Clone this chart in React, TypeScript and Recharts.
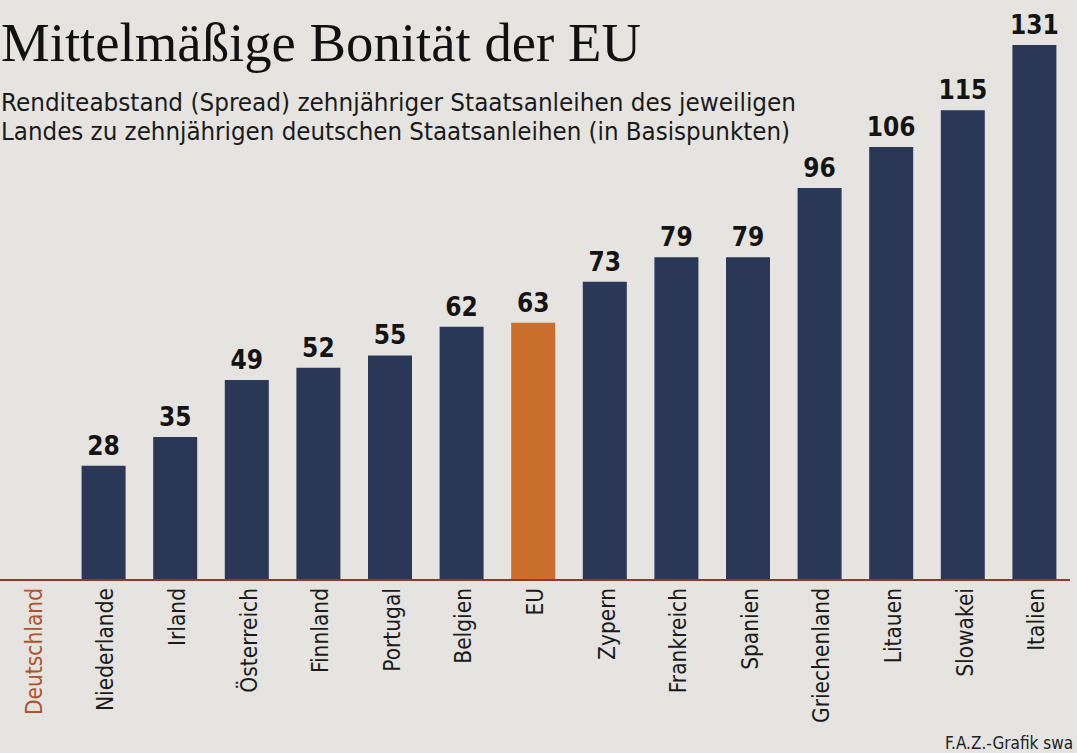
import React from "react";
import { BarChart, Bar, XAxis, YAxis, Cell, LabelList } from "recharts";

const categories = [
  "Deutschland",
  "Niederlande",
  "Irland",
  "Österreich",
  "Finnland",
  "Portugal",
  "Belgien",
  "EU",
  "Zypern",
  "Frankreich",
  "Spanien",
  "Griechenland",
  "Litauen",
  "Slowakei",
  "Italien",
];
const spreads = [0, 28, 35, 49, 52, 55, 62, 63, 73, 79, 79, 96, 106, 115, 131];
const highlight = "EU";
const reference = "Deutschland";

const title = "Mittelmäßige Bonität der EU";
const subtitleLines = [
  "Renditeabstand (Spread) zehnjähriger Staatsanleihen des jeweiligen",
  "Landes zu zehnjährigen deutschen Staatsanleihen (in Basispunkten)",
];
const source = "F.A.Z.-Grafik swa";

const data = categories.map((c, i) => ({ name: c, value: spreads[i] }));

const NAVY = "#2b3756";
const ORANGE = "#c96f2b";
const PAPER = "#e5e4e0";
const SANS = "'DejaVu Sans Condensed', 'Liberation Sans Narrow', 'Open Sans', sans-serif";

const Tick = (props: any) => {
  const { x, y, payload } = props;
  const isRef = payload.value === reference;
  return (
    <text
      transform={`translate(${x + 2},${y + 6}) rotate(-90)`}
      textAnchor="end"
      dominantBaseline="central"
      fontFamily={SANS}
      fontSize={22.5}
      fill={isRef ? "#b0532c" : "#1b1b1b"}
    >
      {payload.value}
    </text>
  );
};

const ValueLabel = (props: any) => {
  const { x, y, width, value } = props;
  if (!value) return null;
  return (
    <text
      x={x + width / 2}
      y={y - 11}
      textAnchor="middle"
      fontFamily={SANS}
      fontWeight="bold"
      fontSize={26}
      fill="#141414"
    >
      {value}
    </text>
  );
};

export default function App() {
  return (
    <div
      style={{
        position: "absolute",
        left: 0,
        top: 0,
        width: 1077,
        height: 753,
        background: PAPER,
        overflow: "hidden",
      }}
    >
      <div style={{ position: "absolute", left: -4, top: 0 }}>
        <BarChart
          width={1085}
          height={753}
          data={data}
          margin={{ top: 45, right: 11, bottom: 8, left: 0 }}
        >
          <YAxis hide domain={[0, 131]} width={0} />
          <XAxis
            dataKey="name"
            interval={0}
            height={165}
            tickLine={false}
            tickSize={0}
            axisLine={{ stroke: "#8b3b2f", strokeWidth: 2 }}
            tick={<Tick />}
          />
          <Bar dataKey="value" barSize={44} isAnimationActive={false}>
            {data.map((d) => (
              <Cell key={d.name} fill={d.name === highlight ? ORANGE : NAVY} />
            ))}
            <LabelList dataKey="value" content={<ValueLabel />} />
          </Bar>
        </BarChart>
      </div>
      <svg
        width={1077}
        height={753}
        style={{ position: "absolute", left: 0, top: 0, pointerEvents: "none" }}
      >
        <text
          x={1}
          y={61}
          fontFamily="'Liberation Serif', 'DejaVu Serif', serif"
          fontSize={54}
          fill="#111"
          textLength={640}
          lengthAdjust="spacingAndGlyphs"
        >
          {title}
        </text>
        {subtitleLines.map((line, i) => (
          <text
            key={i}
            x={1}
            y={111 + i * 29}
            fontFamily={SANS}
            fontSize={24}
            fill="#1a1a1a"
            textLength={i === 0 ? 795 : 789}
            lengthAdjust="spacingAndGlyphs"
          >
            {line}
          </text>
        ))}
        <text x={945} y={749} fontFamily={SANS} fontSize={17} fill="#222">
          {source}
        </text>
      </svg>
    </div>
  );
}
